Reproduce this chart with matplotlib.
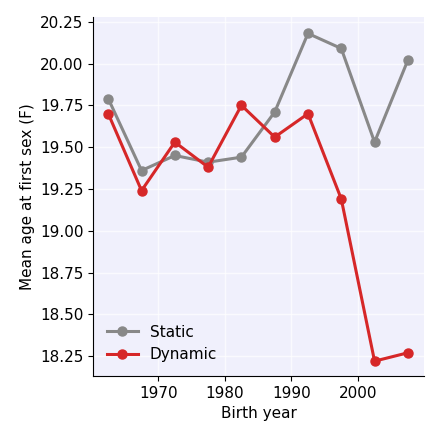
import matplotlib
matplotlib.use('Agg')
import matplotlib.pyplot as plt

# Cohort midpoints and mean ages
birth_year = [1962.5, 1967.5, 1972.5, 1977.5, 1982.5, 1987.5, 1992.5, 1997.5, 2002.5, 2007.5]
static_age = [19.79, 19.36, 19.45, 19.41, 19.44, 19.71, 20.18, 20.09, 19.53, 20.02]
dynamic_age = [19.70, 19.24, 19.53, 19.38, 19.75, 19.56, 19.70, 19.19, 18.22, 18.27]

plt.rcParams['font.size'] = 11

fig, ax = plt.subplots(figsize=(4.4, 4.4), dpi=100)
ax.set_facecolor('#f0f0fc')

ax.plot(birth_year, static_age, marker='o', color='#888888', linewidth=2.2, markersize=6.5, label='Static')
ax.plot(birth_year, dynamic_age, marker='o', color='#d62728', linewidth=2.2, markersize=6.5, label='Dynamic')

ax.set_xlim(1960.25, 2009.95)
ax.set_ylim(18.13, 20.28)
ax.set_xticks([1970, 1980, 1990, 2000])
ax.set_yticks([18.25, 18.5, 18.75, 19.0, 19.25, 19.5, 19.75, 20.0, 20.25])
ax.set_xlabel('Birth year')
ax.set_ylabel('Mean age at first sex (F)')
ax.grid(True, color='white', linewidth=1, alpha=0.7)
ax.set_axisbelow(True)
ax.spines['top'].set_visible(False)
ax.spines['right'].set_visible(False)
ax.legend(loc='lower left', frameon=False)

fig.subplots_adjust(left=0.212, right=0.964, top=0.962, bottom=0.145)
fig.savefig('out.png', dpi=100)
